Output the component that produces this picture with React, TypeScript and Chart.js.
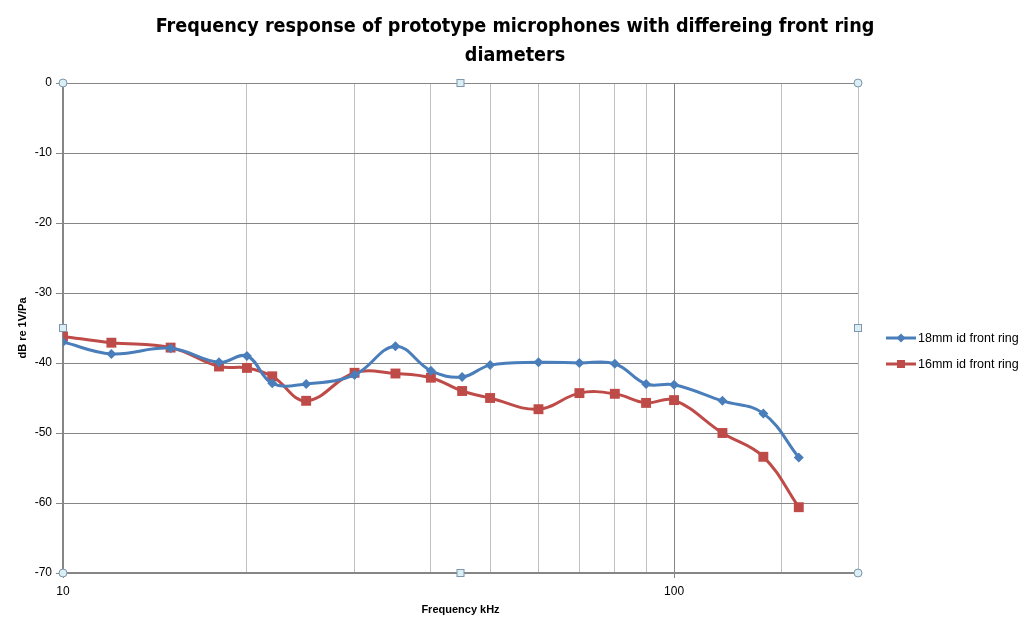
import React, { useEffect, useRef } from "react";
import { Chart, registerables } from "chart.js";

Chart.register(...registerables);

const frequencies = [10, 12, 15, 18, 20, 22, 25, 30, 35, 40, 45, 50, 60, 70, 80, 90, 100, 120, 140, 160];
const ring18 = [-37.0, -38.7, -37.9, -39.9, -39.0, -42.9, -43.0, -41.7, -37.6, -41.1, -42.0, -40.3, -39.9, -40.0, -40.1, -43.0, -43.1, -45.4, -47.2, -53.5];
const ring16 = [-36.2, -37.1, -37.8, -40.5, -40.7, -41.9, -45.4, -41.4, -41.5, -42.1, -44.0, -45.0, -46.6, -44.3, -44.4, -45.7, -45.3, -50.0, -53.4, -60.6];
const xTickLabels = [10, 100];

const BLUE = "#4a7ebb";
const RED = "#be4b48";
const FONT = "'Liberation Sans', Arial, sans-serif";

// little excel-style selection handles round the plot area
const handlesPlugin = {
  id: "handles",
  afterDraw(chart: Chart) {
    const { left, right, top, bottom } = chart.chartArea;
    const ctx = chart.ctx;
    const midX = (left + right) / 2;
    const midY = (top + bottom) / 2;
    ctx.save();
    ctx.fillStyle = "#dbeef4";
    ctx.strokeStyle = "#7c96ad";
    ctx.lineWidth = 1;
    for (const [x, y] of [[left, top], [right, top], [left, bottom], [right, bottom]]) {
      ctx.beginPath();
      ctx.arc(x, y, 4, 0, Math.PI * 2);
      ctx.fill();
      ctx.stroke();
    }
    for (const [x, y] of [[midX, top], [midX, bottom], [left, midY], [right, midY]]) {
      ctx.fillRect(x - 3.5, y - 3.5, 7, 7);
      ctx.strokeRect(x - 3.5, y - 3.5, 7, 7);
    }
    ctx.restore();
  },
};

function LegendItem({ color, square, label }: { color: string; square: boolean; label: string }) {
  return (
    <div style={{ display: "flex", alignItems: "center", height: 26 }}>
      <svg width={30} height={12} style={{ marginRight: 2 }}>
        <line x1={0} y1={6} x2={30} y2={6} stroke={color} strokeWidth={3} />
        {square ? (
          <rect x={11} y={2} width={8} height={8} fill={color} />
        ) : (
          <polygon points="15,1.5 19.5,6 15,10.5 10.5,6" fill={color} />
        )}
      </svg>
      <span style={{ fontFamily: FONT, fontSize: 12.5, color: "#000" }}>{label}</span>
    </div>
  );
}

export default function App() {
  const chartRef = useRef<HTMLCanvasElement | null>(null);
  const chartInstance = useRef<Chart | null>(null);

  useEffect(() => {
    document.body.style.margin = "0";
    if (!chartRef.current) return;
    if (chartInstance.current) chartInstance.current.destroy();
    const ctx = chartRef.current.getContext("2d");
    if (!ctx) return;

    chartInstance.current = new Chart(ctx, {
      type: "line",
      data: {
        datasets: [
          {
            label: "18mm id front ring",
            data: frequencies.map((f, i) => ({ x: f, y: ring18[i] })),
            borderColor: BLUE,
            backgroundColor: BLUE,
            borderWidth: 3,
            tension: 0.4,
            pointStyle: "rectRot",
            pointRadius: 5,
            pointBorderWidth: 0,
          },
          {
            label: "16mm id front ring",
            data: frequencies.map((f, i) => ({ x: f, y: ring16[i] })),
            borderColor: RED,
            backgroundColor: RED,
            borderWidth: 3,
            tension: 0.4,
            pointStyle: "rect",
            pointRadius: 7,
            pointBorderWidth: 0,
          },
        ],
      },
      options: {
        animation: false,
        responsive: true,
        maintainAspectRatio: false,
        plugins: {
          legend: { display: false },
          tooltip: { enabled: false },
          title: {
            display: true,
            text: ["Frequency response of prototype microphones with differeing front ring", "diameters"],
            color: "#000",
            font: { family: "'Liberation Sans Narrow', 'DejaVu Sans Condensed', sans-serif", size: 19.6, weight: "bold", lineHeight: 1.48 },
            padding: { top: 12, bottom: 13 },
          },
        },
        scales: {
          x: {
            type: "logarithmic",
            min: 10,
            max: 200,
            afterFit: (scale: any) => {
              scale.height = 55;
            },
            border: { color: "#868686", width: 2 },
            grid: {
              color: (c: any) => (c.tick && c.tick.value === 100 ? "#868686" : "#c0c0c0"),
              tickColor: (c: any) => (c.tick && xTickLabels.includes(c.tick.value) ? "#868686" : "transparent"),
              tickLength: 5,
            },
            ticks: {
              autoSkip: false,
              maxRotation: 0,
              padding: 6,
              color: "#000",
              font: { family: FONT, size: 12 },
              callback: (v: any) => (xTickLabels.includes(Number(v)) ? String(v) : ""),
            },
            title: {
              display: true,
              text: "Frequency kHz",
              color: "#000",
              font: { family: FONT, size: 11, weight: "bold" },
              padding: { top: 0, bottom: 11 },
            },
          },
          y: {
            min: -70,
            max: 0,
            afterFit: (scale: any) => {
              scale.width = 63;
            },
            border: { color: "#868686", width: 2 },
            grid: { color: "#868686", tickLength: 7 },
            ticks: {
              stepSize: 10,
              padding: 4,
              color: "#000",
              font: { family: FONT, size: 12 },
            },
            title: {
              display: true,
              text: "dB re 1V/Pa",
              color: "#000",
              font: { family: FONT, size: 11, weight: "bold" },
              padding: { top: 16, bottom: 0 },
            },
          },
          // empty axis on the right that keeps room for the legend
          legendSpace: {
            type: "linear",
            position: "right",
            afterFit: (scale: any) => {
              scale.width = 172;
            },
            grid: { display: false },
            border: { display: false },
            ticks: { display: false },
          },
        },
      },
      plugins: [handlesPlugin],
    });

    return () => {
      if (chartInstance.current) {
        chartInstance.current.destroy();
        chartInstance.current = null;
      }
    };
  }, []);

  return (
    <div style={{ position: "relative", width: 1030, height: 628, background: "#fff" }}>
      <canvas ref={chartRef} />
      <div style={{ position: "absolute", left: 886, top: 325 }}>
        <LegendItem color={BLUE} square={false} label="18mm id front ring" />
        <LegendItem color={RED} square={true} label="16mm id front ring" />
      </div>
    </div>
  );
}
